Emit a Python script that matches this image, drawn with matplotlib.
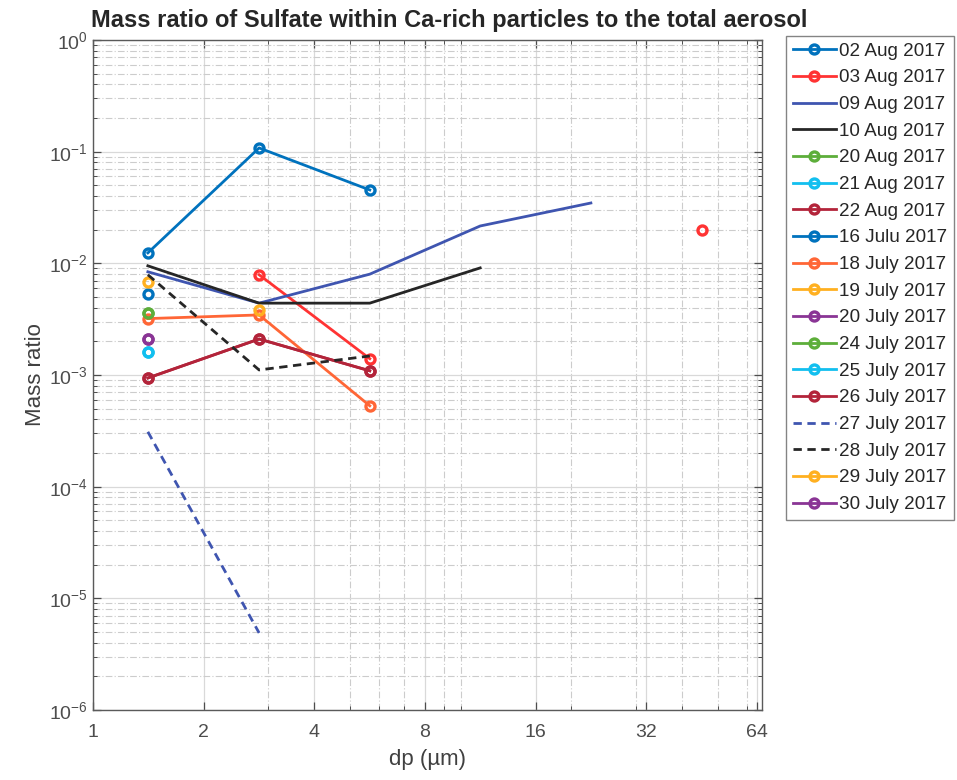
import numpy as np
import matplotlib
matplotlib.use("Agg")
import matplotlib.pyplot as plt
from matplotlib.ticker import FixedLocator, NullFormatter, LogFormatterSciNotation

plt.rcParams['font.family'] = ['Liberation Sans', 'DejaVu Sans']

nan = np.nan
# Particle size bins (geometric centre of each bin, µm)
dp = [1.41, 2.83, 5.66, 11.3, 22.6, 45.3]

aug02 = [0.0124, 0.108, 0.0454, nan, nan, nan]
aug03 = [nan, 0.0079, 0.0014, nan, nan, 0.020]
aug09 = [0.0084, 0.0044, 0.0080, 0.0216, 0.0347, nan]
aug10 = [0.0095, 0.0044, 0.0044, 0.0091, nan, nan]
aug20 = [0.0036, nan, nan, nan, nan, nan]
aug21 = [0.0016, nan, nan, nan, nan, nan]
aug22 = [0.00094, 0.0021, 0.00109, nan, nan, nan]
jul16 = [0.0053, nan, nan, nan, nan, nan]
jul18 = [0.0032, 0.00345, 0.00053, nan, nan, nan]
jul19 = [0.0068, nan, nan, nan, nan, nan]
jul20 = [0.0021, nan, nan, nan, nan, nan]
jul24 = [0.0036, nan, nan, nan, nan, nan]
jul25 = [0.0016, nan, nan, nan, nan, nan]
jul26 = [0.00094, 0.0021, 0.00109, nan, nan, nan]
jul27 = [0.00031, 4.9e-6, nan, nan, nan, nan]
jul28 = [0.0079, 0.00111, 0.00148, nan, nan, nan]
jul29 = [nan, 0.0038, nan, nan, nan, nan]
jul30 = [0.0021, nan, nan, nan, nan, nan]

labels = ["02 Aug 2017", "03 Aug 2017", "09 Aug 2017", "10 Aug 2017",
          "20 Aug 2017", "21 Aug 2017", "22 Aug 2017", "16 Julu 2017",
          "18 July 2017", "19 July 2017", "20 July 2017", "24 July 2017",
          "25 July 2017", "26 July 2017", "27 July 2017", "28 July 2017",
          "29 July 2017", "30 July 2017"]
series = [aug02, aug03, aug09, aug10, aug20, aug21, aug22, jul16, jul18,
          jul19, jul20, jul24, jul25, jul26, jul27, jul28, jul29, jul30]

x_ticks = [1, 2, 4, 8, 16, 32, 64]
x_minor = [3, 5, 6, 7, 9, 10, 20, 30, 40, 50, 60]
y_ticks = [1e-6, 1e-5, 1e-4, 1e-3, 1e-2, 1e-1, 1e0]

BLUE = "#0072BD"; RED = "#FF3333"; NAVY = "#3F55B0"; BLACK = "#262626"
GREEN = "#5DAE3A"; CYAN = "#12BFEF"; DRED = "#B3243A"; ORANGE = "#FF6636"
YELLOW = "#FFB020"; PURPLE = "#8A3595"

styles = [
    (BLUE, '-', 'o'), (RED, '-', 'o'), (NAVY, '-', None), (BLACK, '-', None),
    (GREEN, '-', 'o'), (CYAN, '-', 'o'), (DRED, '-', 'o'), (BLUE, '-', 'o'),
    (ORANGE, '-', 'o'), (YELLOW, '-', 'o'), (PURPLE, '-', 'o'), (GREEN, '-', 'o'),
    (CYAN, '-', 'o'), (DRED, '-', 'o'), (NAVY, '--', None), (BLACK, '--', None),
    (YELLOW, '-', 'o'), (PURPLE, '-', 'o'),
]

fig = plt.figure(figsize=(9.57, 7.8), dpi=100)
ax = fig.add_axes([93/957, 1-710/780, (762-93)/957, (710-40)/780])

for vals, lab, (c, ls, mk) in zip(series, labels, styles):
    ax.plot(dp, vals, color=c, linestyle=ls, marker=mk, markersize=6.5,
            markerfacecolor='none', markeredgewidth=2.4, linewidth=2.0,
            label=lab, dashes=(3, 2) if ls == '--' else (None, None))

ax.set_xscale('log', base=2)
ax.set_yscale('log')
ax.set_xlim(1, 66)
ax.set_ylim(1e-6, 1)

ax.xaxis.set_major_locator(FixedLocator(x_ticks))
ax.set_xticklabels([str(v) for v in x_ticks])
ax.xaxis.set_minor_locator(FixedLocator(x_minor))
ax.xaxis.set_minor_formatter(NullFormatter())
y_minor = [m * d for d in y_ticks[:-1] for m in range(2, 10)]
ax.yaxis.set_major_locator(FixedLocator(y_ticks))
ax.yaxis.set_major_formatter(LogFormatterSciNotation())
ax.yaxis.set_minor_locator(FixedLocator(y_minor))
ax.yaxis.set_minor_formatter(NullFormatter())

ax.grid(True, which='major', color='#D9D9D9', linestyle='-', linewidth=0.9)
ax.grid(True, which='minor', color='#CCCCCC', linestyle=(0, (6, 2, 1, 2)), linewidth=0.8)
ax.set_axisbelow(True)

ax.tick_params(which='both', direction='in', top=True, right=True,
               colors='#4D4D4D', labelsize=14)
ax.tick_params(which='major', length=6, width=0.9)
ax.tick_params(which='minor', length=3, width=0.7)
ax.tick_params(axis='x', pad=10)
for s in ax.spines.values():
    s.set_color('#5A5A5A')
    s.set_linewidth(1.0)

ax.set_xlabel('dp (µm)', fontsize=16, color='#404040', labelpad=6)
ax.set_ylabel('Mass ratio', fontsize=16, color='#404040', labelpad=2)
ax.set_title('Mass ratio of Sulfate within Ca-rich particles to the total aerosol',
             fontsize=17, fontweight='bold', color='#262626', loc='left',
             x=-0.003, pad=9)

leg = ax.legend(loc='upper left', bbox_to_anchor=(786/957, 1-36/780),
                bbox_transform=fig.transFigure, fontsize=13.6,
                frameon=True, fancybox=False, edgecolor='#666666',
                labelspacing=0.5, handlelength=2.3, handletextpad=0.15,
                borderpad=0.35, borderaxespad=0.0)
leg.get_frame().set_linewidth(1.0)
for t in leg.get_texts():
    t.set_color('#262626')

fig.savefig('out.png', dpi=100, facecolor='white')
